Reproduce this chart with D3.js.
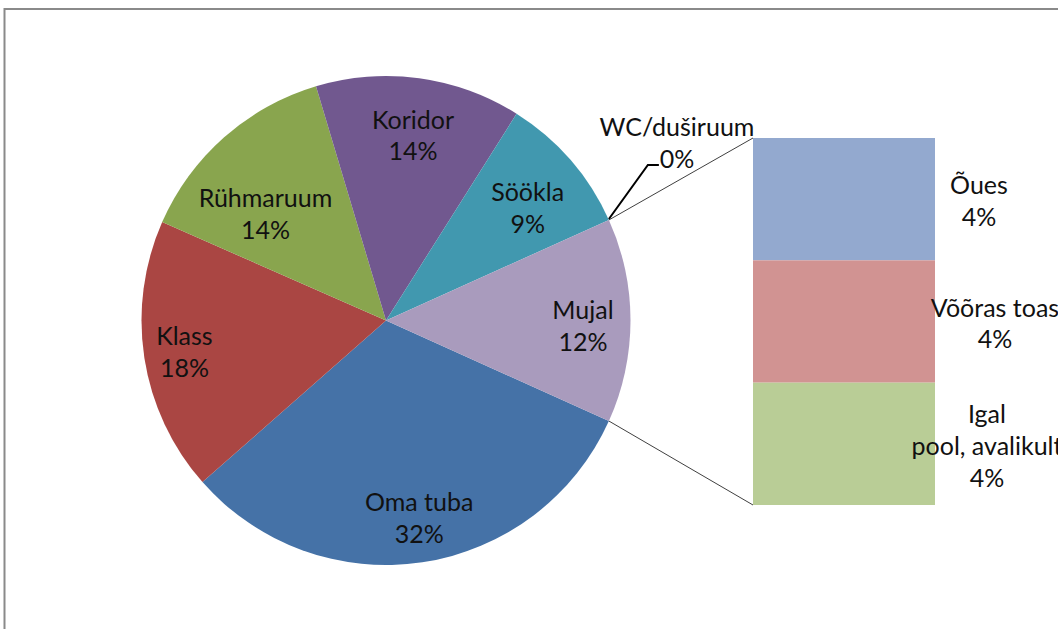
<!DOCTYPE html>
<html>
<head>
<meta charset="utf-8">
<script src="https://cdn.jsdelivr.net/npm/d3@7"></script>
<style>
  html, body { margin: 0; padding: 0; background: #fff; overflow: hidden; }
  #root { width: 1058px; height: 629px; }
  text { font-family: Lato, "Open Sans", sans-serif; fill: #111; }
</style>
</head>
<body>
<div id="root"></div>
<script>
// Data
const pieNames = ['Oma tuba', 'Klass', 'Rühmaruum', 'Koridor', 'Söökla', 'WC/duširuum'];
const pieValues = [31.8, 18.1, 13.8, 13.6, 9.3, 0];
const pieLabels = ['32%', '18%', '14%', '14%', '9%', '0%'];
const otherName = 'Mujal';
const otherLabel = '12%';
const barNames = ['Õues', 'Võõras toas', 'Igal\npool, avalikult'];
const barValues = [4.5, 4.5, 4.5];
const barLabels = ['4%', '4%', '4%'];

const pieColors = ['#4572A7', '#AA4643', '#89A54E', '#71588F', '#4198AF', '#DB843D', '#A99BBD'];
const barColors = ['#93A9CF', '#D19392', '#B9CD96'];

const root = document.getElementById('root');
const width = 1058;
const height = 629;
const fontSize = 25;
const lineH = 31.7;

const svg = d3.select(root)
    .append('svg')
    .attr('width', width)
    .attr('height', height);

// chart frame
svg.append('rect')
    .attr('x', 4.5)
    .attr('y', 9)
    .attr('width', 1200)
    .attr('height', 800)
    .attr('fill', 'none')
    .attr('stroke', '#8a8a8a')
    .attr('stroke-width', 2);

// Pie
const cx = 386, cy = 320.5, r = 244.5;
const otherValue = d3.sum(barValues);
const slices = pieNames.map((n, i) => ({ name: n, value: pieValues[i], label: pieLabels[i], color: pieColors[i] }));
slices.push({ name: otherName, value: otherValue, label: otherLabel, color: pieColors[6] });
const total = d3.sum(slices, d => d.value);
const a0 = Math.PI / 2 + Math.PI * otherValue / total;

const pie = d3.pie().sort(null).value(d => d.value)
    .startAngle(a0).endAngle(a0 + 2 * Math.PI);
const arcs = pie(slices);
const arc = d3.arc().innerRadius(0).outerRadius(r);

const g = svg.append('g').attr('transform', `translate(${cx},${cy})`);
g.selectAll('path')
    .data(arcs)
    .join('path')
    .attr('d', arc)
    .attr('fill', d => d.data.color);

const polar = (a, rad) => [Math.sin(a) * rad, -Math.cos(a) * rad];

const drawLines = (sel, x, y, lines) => {
    const t = sel.append('text')
        .attr('text-anchor', 'middle')
        .attr('font-size', fontSize);
    lines.forEach((ln, i) => {
        t.append('tspan')
            .attr('x', x)
            .attr('y', y + (i - (lines.length - 1) / 2) * lineH + fontSize * 0.36)
            .text(ln);
    });
};

// pie labels (WC gets a leader line instead)
const labelR = [200, 204, 161, 187, 181, 0, 197];
const labelNudge = [-1, 0, -7, 0.5, 2.5, 0, 1.5];
arcs.forEach((d, i) => {
    if (d.data.value === 0) return;
    const mid = (d.startAngle + d.endAngle) / 2 + labelNudge[i] * Math.PI / 180;
    const [lx, ly] = polar(mid, labelR[i]);
    drawLines(g, lx, ly, [d.data.name, d.data.label]);
});

// Bar of "Mujal"
const bx0 = 753, bx1 = 935;
const y = d3.scaleLinear().domain([0, otherValue]).range([138, 505]);
const stack = d3.cumsum(barValues);
const bars = barValues.map((v, i) => ({ name: barNames[i], label: barLabels[i], color: barColors[i], y0: stack[i] - v, y1: stack[i] }));

svg.selectAll('rect.seg')
    .data(bars)
    .join('rect')
    .attr('class', 'seg')
    .attr('x', bx0)
    .attr('width', bx1 - bx0)
    .attr('y', d => y(d.y0))
    .attr('height', d => y(d.y1) - y(d.y0))
    .attr('fill', d => d.color);

const barLabelX = [979, 995, 987];
bars.forEach((d, i) => {
    drawLines(svg, barLabelX[i], (y(d.y0) + y(d.y1)) / 2 + 2, d.name.split('\n').concat([d.label]));
});

// connector lines pie -> bar
const other = arcs[arcs.length - 1];
const [tx, ty] = polar(other.startAngle, r);
const [ux, uy] = polar(other.endAngle, r);
svg.append('line')
    .attr('x1', cx + tx).attr('y1', cy + ty)
    .attr('x2', bx0).attr('y2', y(0))
    .attr('stroke', '#404040').attr('stroke-width', 1);
svg.append('line')
    .attr('x1', cx + ux).attr('y1', cy + uy)
    .attr('x2', bx0).attr('y2', y(otherValue))
    .attr('stroke', '#404040').attr('stroke-width', 1);

// WC/duširuum leader + label
const wc = arcs[5];
const [wx, wy] = polar(wc.startAngle, r);
const ax = cx + wx, ay = cy + wy;
svg.append('path')
    .attr('d', `M${ax},${ay - 1}L${ax + 39},${ay - 55}L${ax + 50},${ay - 55}`)
    .attr('fill', 'none')
    .attr('stroke', '#000')
    .attr('stroke-width', 2);
drawLines(svg, 677, 143, [wc.data.name, wc.data.label]);
</script>
</body>
</html>
